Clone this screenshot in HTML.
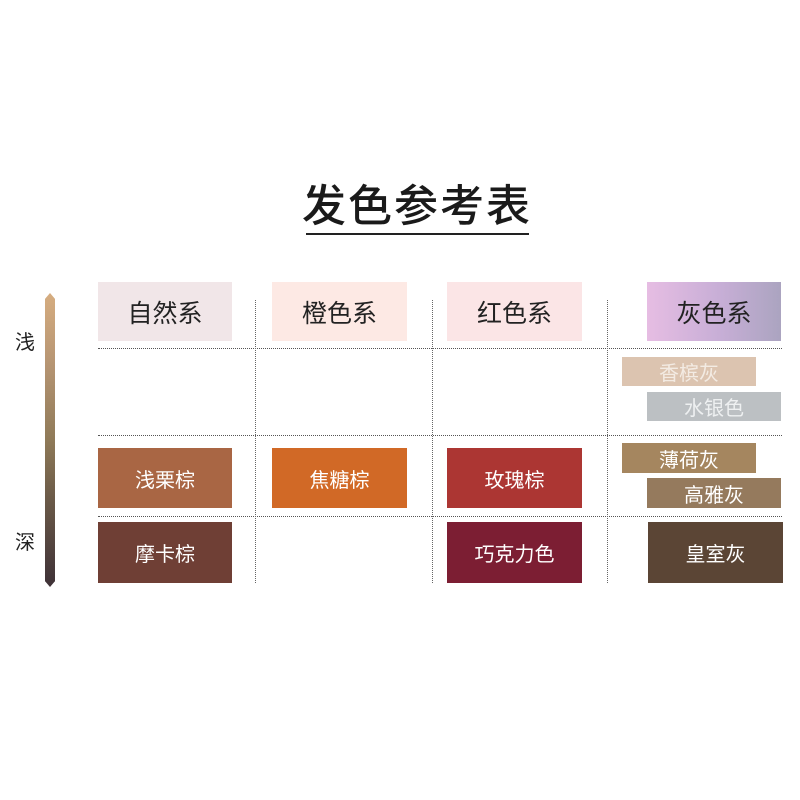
<!DOCTYPE html>
<html><head><meta charset="utf-8"><style>
body{margin:0;width:800px;height:800px;background:#fff;position:relative;overflow:hidden;font-family:"Liberation Sans","Noto Sans CJK SC",sans-serif}
.a{position:absolute}
.b{position:absolute;display:flex;align-items:center;justify-content:center;color:#fff;font-size:20px}
.h{color:#222;font-size:25px}
.hl{position:absolute;left:98px;width:684px;border-top:1px dotted #555}
.vl{position:absolute;top:300px;height:283px;border-left:1px dotted #666}
</style></head><body>
<div class="a" style="left:0;width:834px;top:170px;text-align:center;font-size:44px;font-weight:500;color:#1a1a1a;letter-spacing:2px">发色参考表</div>
<div class="a" style="left:306px;top:233px;width:223px;height:2px;background:#222"></div>
<div class="a" style="left:45px;top:293px;width:10px;height:294px;background:linear-gradient(#d6ad80,#b59472 25%,#8f7a58 50%,#6b5a48 70%,#3e3137);clip-path:polygon(50% 0,100% 2%,100% 98%,50% 100%,0 98%,0 2%)"></div>
<div class="a" style="left:15px;top:326px;font-size:20px;color:#222">浅</div>
<div class="a" style="left:15px;top:526px;font-size:20px;color:#222">深</div>
<div class="hl" style="top:348px"></div>
<div class="hl" style="top:435px"></div>
<div class="hl" style="top:516px"></div>
<div class="vl" style="left:255px"></div>
<div class="vl" style="left:432px"></div>
<div class="vl" style="left:607px"></div>
<div class="b h" style="left:98px;top:282px;width:134px;height:59px;background:#f1e6e8">自然系</div>
<div class="b h" style="left:272px;top:282px;width:135px;height:59px;background:#fde9e4">橙色系</div>
<div class="b h" style="left:447px;top:282px;width:135px;height:59px;background:#fbe5e6">红色系</div>
<div class="b h" style="left:647px;top:282px;width:134px;height:59px;background:linear-gradient(90deg,#e6bde3,#c7aed6 55%,#aba4c0)">灰色系</div>
<div class="b" style="left:622px;top:357px;width:134px;height:29px;background:#dcc4b0;color:#f3ebe3">香槟灰</div>
<div class="b" style="left:647px;top:392px;width:134px;height:29px;background:#bcc0c3;color:#eef0f1">水银色</div>
<div class="b" style="left:622px;top:443px;width:134px;height:30px;background:#a5865f">薄荷灰</div>
<div class="b" style="left:647px;top:478px;width:134px;height:30px;background:#957a5d">高雅灰</div>
<div class="b" style="left:98px;top:448px;width:134px;height:60px;background:#a96644">浅栗棕</div>
<div class="b" style="left:272px;top:448px;width:135px;height:60px;background:#d16926">焦糖棕</div>
<div class="b" style="left:447px;top:448px;width:135px;height:60px;background:#ac3633">玫瑰棕</div>
<div class="b" style="left:98px;top:522px;width:134px;height:61px;background:#6f3f35">摩卡棕</div>
<div class="b" style="left:447px;top:522px;width:135px;height:61px;background:#7c1e33">巧克力色</div>
<div class="b" style="left:648px;top:522px;width:135px;height:61px;background:#5b4535">皇室灰</div>
</body></html>
